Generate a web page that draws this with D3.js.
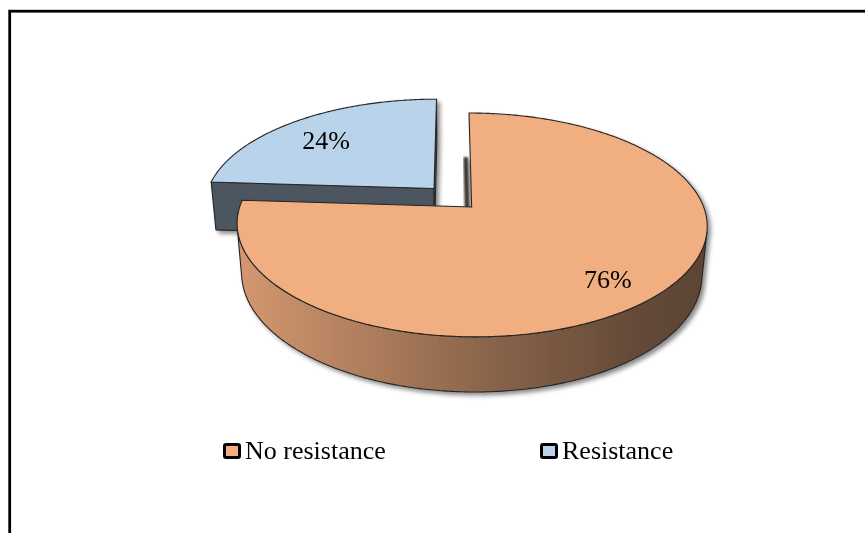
<!DOCTYPE html>
<html>
<head>
<meta charset="utf-8">
<script src="https://cdn.jsdelivr.net/npm/d3@7"></script>
<style>
  html, body { margin: 0; padding: 0; background: #fff; }
  svg { display: block; }
</style>
</head>
<body>
<svg id="chart" width="865" height="533"></svg>
<script>
// ---- data ----
const categories = ["No resistance", "Resistance"];
const values = [76, 24];
const valueLabels = ["76%", "24%"];
const explodeAmount = [0, 0.24];

// ---- styles ----
const palette = {
  top: ["#F1AE80", "#B9D3EA"],
  sideStops: [
    [[0, "#D49870"], [0.25, "#B2805E"], [0.55, "#87634A"], [0.85, "#644A38"], [1, "#5C4434"]],
    [[0, "#4B5660"], [1, "#4B5660"]]
  ],
  face: ["#3A332E", "#4B5660"],
  outline: "#262626"
};

const svg = d3.select("#chart");
const defs = svg.append("defs");

defs.append("filter").attr("id", "shadow")
  .attr("x", "-10%").attr("y", "-10%").attr("width", "130%").attr("height", "140%")
  .append("feDropShadow")
  .attr("dx", 3).attr("dy", 3).attr("stdDeviation", 2.2)
  .attr("flood-color", "#000").attr("flood-opacity", 0.45);

defs.append("filter").attr("id", "soft")
  .attr("x", "-100%").attr("y", "-10%").attr("width", "300%").attr("height", "120%")
  .append("feGaussianBlur").attr("stdDeviation", 1.3);

// ---- frame ----
svg.append("rect")
  .attr("x", 9.7).attr("y", 11.2).attr("width", 900).attr("height", 600)
  .attr("fill", "none").attr("stroke", "#000").attr("stroke-width", 2.8);

// ---- 3D pie camera ----
const view = { scale: 232, originX: 452.4, originY: 207, tilt: Math.asin(0.47), dist: 5.51, camX: -0.083, depth: 0.245 };
const cosT = Math.cos(view.tilt), sinT = Math.sin(view.tilt);
const cam = [view.camX, view.dist * sinT, view.dist * cosT];

// perspective projection of a point on the unit-radius pie (X right, Y up, Z toward viewer)
function project(p) {
  const [X, Y, Z] = p;
  const r = 1 - (Z * cosT + Y * sinT) / view.dist;
  return [view.originX + view.scale * (X - view.camX) / r,
          view.originY - view.scale * (Y * cosT - Z * sinT) / r];
}
function facing(n, p) {
  return n[0] * (cam[0] - p[0]) + n[1] * (cam[1] - p[1]) + n[2] * (cam[2] - p[2]) > 0;
}

const line = d3.line();
const closed = pts => line(pts) + "Z";

const arcs = d3.pie().sort(null).value(d => d)(values);

const slices = arcs.map((a, i) => {
  const a0 = a.startAngle, a1 = a.endAngle, mid = (a0 + a1) / 2;
  const off = [explodeAmount[i] * Math.sin(mid), -explodeAmount[i] * Math.cos(mid)];
  const rim = (t, Y, r = 1) => [off[0] + r * Math.sin(t), Y, off[1] - r * Math.cos(t)];
  const ctr = Y => [off[0], Y, off[1]];
  const n = Math.max(2, Math.ceil((a1 - a0) / 0.01));
  const ts = d3.range(n + 1).map(j => a0 + (a1 - a0) * j / n);
  return { i, a0, a1, mid, off, rim, ctr, ts };
});

// paint the farther slice first
const order = slices.slice().sort((p, q) =>
  (p.off[1] - 0.5 * Math.cos(p.mid)) - (q.off[1] - 0.5 * Math.cos(q.mid)));

const strokeW = 1.1;

order.forEach(s => {
  const g = svg.append("g").attr("filter", "url(#shadow)");
  const d = view.depth;

  // outer curved side, only the parts turned to the camera
  const groups = [];
  let cur = null;
  for (let j = 0; j < s.ts.length - 1; j++) {
    const tm = (s.ts[j] + s.ts[j + 1]) / 2;
    const vis = facing([Math.sin(tm), 0, -Math.cos(tm)], s.rim(tm, 0));
    if (vis) {
      if (!cur) { cur = [s.ts[j]]; groups.push(cur); }
      cur.push(s.ts[j + 1]);
    } else cur = null;
  }
  const xs = s.ts.map(t => project(s.rim(t, 0))[0]);
  const gid = "side" + s.i;
  const grad = defs.append("linearGradient").attr("id", gid)
    .attr("gradientUnits", "userSpaceOnUse")
    .attr("x1", d3.min(xs)).attr("x2", d3.max(xs)).attr("y1", 0).attr("y2", 0);
  palette.sideStops[s.i].forEach(([o, c]) => grad.append("stop").attr("offset", o).attr("stop-color", c));

  groups.forEach(gr => {
    const pts = gr.map(t => project(s.rim(t, 0)))
      .concat(gr.slice().reverse().map(t => project(s.rim(t, -d))));
    g.append("path").attr("d", closed(pts))
      .attr("fill", `url(#${gid})`)
      .attr("stroke", palette.outline).attr("stroke-width", strokeW).attr("stroke-linejoin", "round");
  });

  // flat radial faces
  const faces = [
    { t: s.a0, n: [-Math.cos(s.a0), 0, -Math.sin(s.a0)] },
    { t: s.a1, n: [Math.cos(s.a1), 0, Math.sin(s.a1)] }
  ];
  faces.forEach(f => {
    if (!facing(f.n, s.rim(f.t, -d / 2, 0.5))) return;
    if (s.i === 0) {
      // the cut face of the large slice reads as a soft dark band along its lower edge
      g.append("path")
        .attr("d", line([s.rim(f.t, -d), s.ctr(-d)].map(project)))
        .attr("transform", "translate(-3,0)")
        .attr("fill", "none")
        .attr("stroke", palette.face[0]).attr("stroke-width", 4.5)
        .attr("filter", "url(#soft)");
      return;
    }
    const pts = [s.ctr(0), s.rim(f.t, 0), s.rim(f.t, -d), s.ctr(-d)].map(project);
    g.append("path").attr("d", closed(pts))
      .attr("fill", palette.face[s.i])
      .attr("stroke", palette.outline).attr("stroke-width", strokeW).attr("stroke-linejoin", "round");
  });

  // top face
  const topPts = [project(s.ctr(0))].concat(s.ts.map(t => project(s.rim(t, 0))));
  g.append("path").attr("d", closed(topPts))
    .attr("fill", palette.top[s.i])
    .attr("stroke", palette.outline).attr("stroke-width", strokeW).attr("stroke-linejoin", "round");
});

// value labels on the top faces
slices.forEach(s => {
  const [x, y] = project(s.rim(s.mid, 0, 0.77));
  svg.append("text")
    .attr("x", x).attr("y", y + 14)
    .attr("text-anchor", "middle")
    .attr("font-family", "'Liberation Serif', 'Times New Roman', serif")
    .attr("font-size", 26).attr("fill", "#000")
    .text(valueLabels[s.i]);
});

// ---- legend ----
const legendLayout = { x0: 224.5, step: 317, y: 444.5, box: [15, 13], gap: 5.5, baseline: 459 };
const legend = svg.append("g");
categories.forEach((c, i) => {
  const x = legendLayout.x0 + i * legendLayout.step;
  legend.append("rect")
    .attr("x", x).attr("y", legendLayout.y)
    .attr("width", legendLayout.box[0]).attr("height", legendLayout.box[1])
    .attr("rx", 1.5)
    .attr("fill", palette.top[i]).attr("stroke", "#000").attr("stroke-width", 3);
  legend.append("text")
    .attr("x", x + legendLayout.box[0] + legendLayout.gap)
    .attr("y", legendLayout.baseline)
    .attr("font-family", "'Liberation Serif', 'Times New Roman', serif")
    .attr("font-size", 26).attr("fill", "#000")
    .text(c);
});
</script>
</body>
</html>
